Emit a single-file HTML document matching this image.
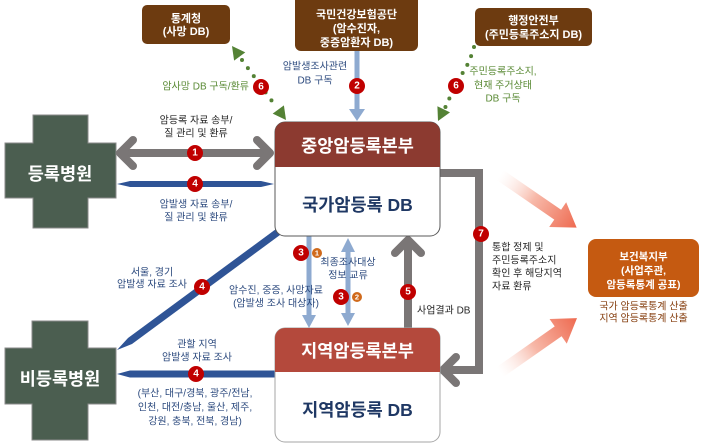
<!DOCTYPE html>
<html>
<head>
<meta charset="utf-8">
<style>
html,body{margin:0;padding:0;background:#fff;}
svg{display:block;}
text{font-family:"Liberation Sans","Noto Sans CJK KR",sans-serif;}
</style>
</head>
<body>
<svg width="704" height="446" viewBox="0 0 704 446" xmlns="http://www.w3.org/2000/svg">
<defs>
<linearGradient id="og" x1="0" y1="0" x2="1" y2="0">
<stop offset="0" stop-color="#fde8e2" stop-opacity="0"/>
<stop offset="0.45" stop-color="#f7b8a8"/>
<stop offset="1" stop-color="#ee6a50"/>
</linearGradient>
</defs>

<!-- orange gradient arrows -->
<polygon points="0,-6 70,-6 70,-15 93,0 70,15 70,6 0,6" fill="url(#og)" transform="translate(500,175) rotate(34.5)"/>
<polygon points="0,-6 71,-6 71,-15 94,0 71,15 71,6 0,6" fill="url(#og)" transform="translate(500,372) rotate(-35)"/>

<!-- top boxes -->
<rect x="142" y="5" width="88" height="39" rx="5" fill="#6d3b10"/>
<text x="186" y="19" font-size="11" font-weight="bold" fill="#fff" text-anchor="middle" dominant-baseline="central">통계청</text>
<text x="186" y="32" font-size="11" font-weight="bold" fill="#fff" text-anchor="middle" dominant-baseline="central">(사망 DB)</text>

<rect x="295" y="-6" width="123" height="57" rx="6" fill="#6d3b10"/>
<text x="356.5" y="15" font-size="11" font-weight="bold" fill="#fff" text-anchor="middle" dominant-baseline="central">국민건강보험공단</text>
<text x="356.5" y="29" font-size="11" font-weight="bold" fill="#fff" text-anchor="middle" dominant-baseline="central">(암수진자,</text>
<text x="356.5" y="43" font-size="11" font-weight="bold" fill="#fff" text-anchor="middle" dominant-baseline="central">중증암환자 DB)</text>

<rect x="475" y="8" width="117" height="38" rx="5" fill="#6d3b10"/>
<text x="533.5" y="21" font-size="11" font-weight="bold" fill="#fff" text-anchor="middle" dominant-baseline="central">행정안전부</text>
<text x="533.5" y="35" font-size="11" font-weight="bold" fill="#fff" text-anchor="middle" dominant-baseline="central">(주민등록주소지 DB)</text>

<!-- green dotted arrows -->
<line x1="242" y1="60" x2="277" y2="108" stroke="#548235" stroke-width="4" stroke-linecap="round" stroke-dasharray="0 10"/>
<polygon points="286,120 272.7,113.6 283.9,105.4" fill="#548235"/>
<polygon points="232,46 234.1,60.6 245.3,52.4" fill="#548235"/>
<path d="M474,47 Q470,62 462,74 Q452,92 445,108" fill="none" stroke="#548235" stroke-width="4" stroke-linecap="round" stroke-dasharray="0 9.5"/>
<polygon points="438,121 450,112.4 437.4,106.2" fill="#548235"/>

<text x="249" y="87" font-size="10" fill="#5a8a35" text-anchor="end" dominant-baseline="central">암사망 DB 구독/환류</text>
<text x="503" y="72" font-size="10" fill="#5a8a35" text-anchor="middle" dominant-baseline="central">주민등록주소지,</text>
<text x="503" y="86" font-size="10" fill="#5a8a35" text-anchor="middle" dominant-baseline="central">현재 주거상태</text>
<text x="503" y="99" font-size="10" fill="#5a8a35" text-anchor="middle" dominant-baseline="central">DB 구독</text>

<!-- arrow 2 -->
<line x1="357" y1="51" x2="357" y2="110" stroke="#8eaad0" stroke-width="5"/>
<polygon points="349,109 365,109 357,121" fill="#8eaad0"/>
<text x="315" y="67" font-size="10" fill="#2c4a7e" text-anchor="middle" dominant-baseline="central">암발생조사관련</text>
<text x="315" y="81" font-size="10" fill="#2c4a7e" text-anchor="middle" dominant-baseline="central">DB 구독</text>

<!-- crosses -->
<path d="M33,115 H88 V143 H116 V198 H88 V228 H33 V198 H5 V143 H33 Z" fill="#4b5e50" stroke="#8a8a8a" stroke-width="1"/>
<text x="60" y="174" font-size="17.5" font-weight="bold" fill="#fff" text-anchor="middle" dominant-baseline="central">등록병원</text>
<path d="M32,321 H88 V348 H116 V404 H88 V440 H32 V404 H5 V348 H32 Z" fill="#4b5e50" stroke="#8a8a8a" stroke-width="1"/>
<text x="60" y="379" font-size="17.5" font-weight="bold" fill="#fff" text-anchor="middle" dominant-baseline="central">비등록병원</text>

<!-- arrow 1 gray double -->
<line x1="121" y1="153" x2="269" y2="153" stroke="#7a7676" stroke-width="8"/>
<polyline points="133,140 120,153 133,166" fill="none" stroke="#7a7676" stroke-width="8" stroke-linecap="round" stroke-linejoin="round"/>
<polyline points="257,140 270,153 257,166" fill="none" stroke="#7a7676" stroke-width="8" stroke-linecap="round" stroke-linejoin="round"/>
<text x="196" y="121" font-size="10" fill="#262626" text-anchor="middle" dominant-baseline="central">암등록 자료 송부/</text>
<text x="196" y="134" font-size="10" fill="#262626" text-anchor="middle" dominant-baseline="central">질 관리 및 환류</text>

<!-- arrow 4 blue horizontal top -->
<polygon points="117,184 130,181 261,181 274,184 261,187 130,187" fill="#2f5496"/>
<text x="196" y="205" font-size="10" fill="#2c4a7e" text-anchor="middle" dominant-baseline="central">암발생 자료 송부/</text>
<text x="196" y="218" font-size="10" fill="#2c4a7e" text-anchor="middle" dominant-baseline="central">질 관리 및 환류</text>

<!-- diagonal blue -->
<polygon points="117,350 128,338 276,229 280,235 132,344" fill="#2f5496"/>
<text x="152" y="273" font-size="10" fill="#2c4a7e" text-anchor="middle" dominant-baseline="central">서울, 경기</text>
<text x="152" y="285" font-size="10" fill="#2c4a7e" text-anchor="middle" dominant-baseline="central">암발생 자료 조사</text>

<!-- horizontal blue bottom -->
<polygon points="117,374 130,370.5 276,370.5 276,377.5 130,377.5" fill="#2f5496"/>
<text x="197" y="345" font-size="10" fill="#2c4a7e" text-anchor="middle" dominant-baseline="central">관할 지역</text>
<text x="197" y="358" font-size="10" fill="#2c4a7e" text-anchor="middle" dominant-baseline="central">암발생 자료 조사</text>
<text x="195" y="394" font-size="10" fill="#2c4a7e" text-anchor="middle" dominant-baseline="central">(부산, 대구/경북, 광주/전남,</text>
<text x="195" y="408" font-size="10" fill="#2c4a7e" text-anchor="middle" dominant-baseline="central">인천, 대전/충남, 울산, 제주,</text>
<text x="195" y="422" font-size="10" fill="#2c4a7e" text-anchor="middle" dominant-baseline="central">강원, 충북, 전북, 경남)</text>

<!-- arrow 7 -->
<polyline points="440,173 479,173 479,370 447,370" fill="none" stroke="#7a7676" stroke-width="8" stroke-linejoin="miter"/>
<polyline points="456,357 443,370 456,383" fill="none" stroke="#7a7676" stroke-width="8" stroke-linecap="round" stroke-linejoin="round"/>
<text x="492" y="248" font-size="10" fill="#262626" dominant-baseline="central">통합 정제 및</text>
<text x="492" y="261" font-size="10" fill="#262626" dominant-baseline="central">주민등록주소지</text>
<text x="492" y="274" font-size="10" fill="#262626" dominant-baseline="central">확인 후 해당지역</text>
<text x="492" y="287" font-size="10" fill="#262626" dominant-baseline="central">자료 환류</text>

<!-- vertical arrows between boxes -->
<line x1="309" y1="236" x2="309" y2="316" stroke="#8eaad0" stroke-width="5"/>
<polygon points="302,315 316,315 309,328" fill="#8eaad0"/>
<line x1="348" y1="250" x2="348" y2="314" stroke="#8eaad0" stroke-width="5"/>
<polygon points="341,252 355,252 348,238" fill="#8eaad0"/>
<polygon points="341,313 355,313 348,326" fill="#8eaad0"/>
<line x1="408" y1="330" x2="408" y2="244" stroke="#7a7676" stroke-width="8"/>
<polyline points="395,253 408,240 421,253" fill="none" stroke="#7a7676" stroke-width="8" stroke-linecap="round" stroke-linejoin="round"/>

<text x="348" y="263" font-size="10" fill="#2c4a7e" text-anchor="middle" dominant-baseline="central">최종조사대상</text>
<text x="348" y="276" font-size="10" fill="#2c4a7e" text-anchor="middle" dominant-baseline="central">정보 교류</text>
<text x="276" y="291" font-size="10" fill="#2c4a7e" text-anchor="middle" dominant-baseline="central">암수진, 중증, 사망자료</text>
<text x="276" y="304" font-size="10" fill="#2c4a7e" text-anchor="middle" dominant-baseline="central">(암발생 조사 대상자)</text>
<text x="417" y="311" font-size="10" fill="#262626" dominant-baseline="central">사업결과 DB</text>

<!-- central box -->
<rect x="275" y="122" width="165" height="114" rx="10" fill="#fff" stroke="#595959" stroke-width="1"/>
<path d="M285,122 H430 A10,10 0 0 1 440,132 V167 H275 V132 A10,10 0 0 1 285,122 Z" fill="#8c3a30"/>
<text x="357.5" y="146" font-size="17.5" font-weight="bold" fill="#fff" text-anchor="middle" dominant-baseline="central">중앙암등록본부</text>
<text x="357.5" y="205" font-size="17.5" font-weight="bold" fill="#1f3864" text-anchor="middle" dominant-baseline="central">국가암등록 DB</text>

<!-- regional box -->
<rect x="275" y="328" width="165" height="114" rx="10" fill="#fff" stroke="#a6a6a6" stroke-width="1"/>
<path d="M285,328 H430 A10,10 0 0 1 440,338 V372 H275 V338 A10,10 0 0 1 285,328 Z" fill="#b4493c"/>
<text x="357.5" y="351" font-size="17.5" font-weight="bold" fill="#fff" text-anchor="middle" dominant-baseline="central">지역암등록본부</text>
<text x="357.5" y="410" font-size="17.5" font-weight="bold" fill="#1f3864" text-anchor="middle" dominant-baseline="central">지역암등록 DB</text>

<!-- ministry box -->
<rect x="588" y="239" width="111" height="58" rx="8" fill="#c55a11"/>
<text x="643.5" y="257" font-size="10.5" font-weight="bold" fill="#fff" text-anchor="middle" dominant-baseline="central">보건복지부</text>
<text x="643.5" y="271" font-size="10.5" font-weight="bold" fill="#fff" text-anchor="middle" dominant-baseline="central">(사업주관,</text>
<text x="643.5" y="285" font-size="10.5" font-weight="bold" fill="#fff" text-anchor="middle" dominant-baseline="central">암등록통계 공표)</text>
<text x="643.5" y="307" font-size="10" fill="#843c0c" text-anchor="middle" dominant-baseline="central">국가 암등록통계 산출</text>
<text x="643.5" y="319" font-size="10" fill="#843c0c" text-anchor="middle" dominant-baseline="central">지역 암등록통계 산출</text>

<!-- number circles -->
<g font-size="10" font-weight="bold" fill="#fff" text-anchor="middle">
<circle cx="261" cy="87" r="8" fill="#c00000"/><text x="261" y="87" dominant-baseline="central">6</text>
<circle cx="357" cy="86" r="8" fill="#c00000"/><text x="357" y="86" dominant-baseline="central">2</text>
<circle cx="456" cy="86" r="8" fill="#c00000"/><text x="456" y="86" dominant-baseline="central">6</text>
<circle cx="195" cy="153" r="8" fill="#c00000"/><text x="195" y="153" dominant-baseline="central">1</text>
<circle cx="195" cy="184" r="8" fill="#c00000"/><text x="195" y="184" dominant-baseline="central">4</text>
<circle cx="202" cy="287" r="8" fill="#c00000"/><text x="202" y="287" dominant-baseline="central">4</text>
<circle cx="196" cy="374" r="8" fill="#c00000"/><text x="196" y="374" dominant-baseline="central">4</text>
<circle cx="301" cy="253" r="8" fill="#c00000"/><text x="301" y="253" dominant-baseline="central">3</text>
<circle cx="341" cy="297" r="8" fill="#c00000"/><text x="341" y="297" dominant-baseline="central">3</text>
<circle cx="408" cy="292" r="8" fill="#c00000"/><text x="408" y="292" dominant-baseline="central">5</text>
<circle cx="481" cy="234" r="8" fill="#c00000"/><text x="481" y="234" dominant-baseline="central">7</text>
</g>
<g font-size="7.5" font-weight="bold" fill="#fff" text-anchor="middle">
<circle cx="317" cy="253" r="5" fill="#d06a1c"/><text x="317" y="253" dominant-baseline="central">1</text>
<circle cx="357" cy="297" r="5" fill="#d06a1c"/><text x="357" y="297" dominant-baseline="central">2</text>
</g>
</svg>
</body>
</html>
